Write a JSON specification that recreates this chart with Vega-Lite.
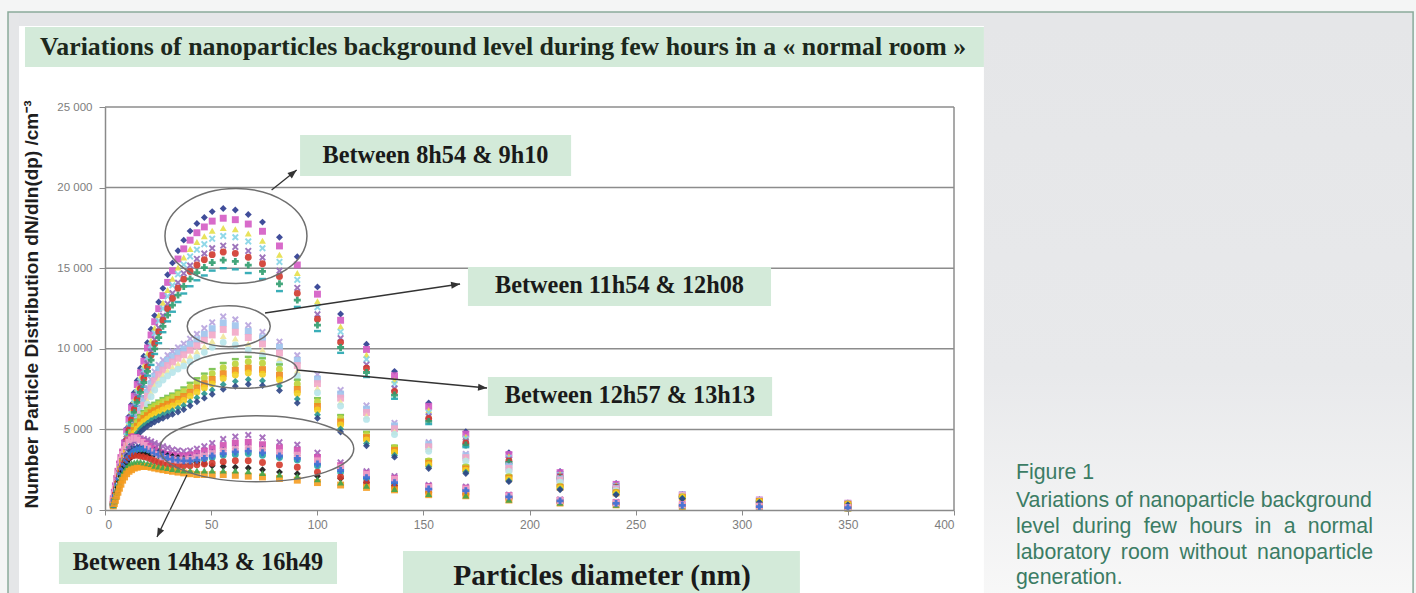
{
"$schema": "https://vega.github.io/schema/vega-lite/v6.json",
"width": 849, "height": 403,
"autosize": {"type": "none"},
"padding": {"left": 105, "top": 107, "right": 462, "bottom": 83},
"background": "#ffffff",
"config": {"view": {"stroke": null}, "axis": {"zindex": 1, "grid": false, "domainColor": "#8a8a8a", "domainWidth": 1.5, "tickColor": "#8a8a8a", "labelColor": "#7d7d7d", "labelFont": "Liberation Sans"}},
"resolve": {"scale": {"shape": "independent", "color": "independent"}},
"layer": [
{"data": {"values": [{"x0": -49.5, "x1": 617.6, "y0": 31700, "y1": 30893}, {"x0": -49.5, "x1": -45.7, "y0": 31700, "y1": -5800}, {"x0": 616.3, "x1": 617.6, "y0": 31700, "y1": -5800}]},
 "mark": {"type": "rect", "fill": "#f4f5f5"},
 "encoding": {"x": {"field": "x0", "type": "quantitative", "scale": {"domain": [0, 400], "nice": false}}, "x2": {"field": "x1"},
  "y": {"field": "y0", "type": "quantitative", "scale": {"domain": [0, 25000], "nice": false}}, "y2": {"field": "y1"}}},
{"data": {"values": [{"x0": -45.7, "x1": 616.3, "y0": 30893, "y1": 30024}, {"x0": -45.7, "x1": -40.5, "y0": 30893, "y1": -5800}]},
 "mark": {"type": "rect", "fill": "#e5e6e8"},
 "encoding": {"x": {"field": "x0", "type": "quantitative"}, "x2": {"field": "x1"}, "y": {"field": "y0", "type": "quantitative"}, "y2": {"field": "y1"}}},
{"data": {"values": [{}]},
 "mark": {"type": "rect",
  "fill": {"gradient": "linear", "x1": 0, "y1": 0, "x2": 0, "y2": 1, "stops": [{"offset": 0, "color": "#e5e6e8"}, {"offset": 0.6, "color": "#e8e9eb"}, {"offset": 1, "color": "#f8f8f8"}]}},
 "encoding": {"x": {"datum": 414.1}, "x2": {"datum": 616.3}, "y": {"datum": 30024}, "y2": {"datum": -5800}}},
{"data": {"values": [{}]},
 "mark": {"type": "rect", "fill": "transparent", "stroke": "#8aab9b", "strokeWidth": 1.5},
 "encoding": {"x": {"datum": -45.7}, "x2": {"datum": 616.3}, "y": {"datum": 30893}, "y2": {"datum": -5800}}},
{"data": {"values": [{}]},
 "mark": {"type": "rect", "fill": "#d3ead9"},
 "encoding": {"x": {"datum": -37.7}, "x2": {"datum": 414.1}, "y": {"datum": 29962}, "y2": {"datum": 27481}}},
{"data": {"values": [{}]},
 "mark": {"type": "text", "text": "Variations of nanoparticles background level during few hours in a « normal room »", "font": "Liberation Serif", "fontWeight": "bold", "fontSize": 25.8, "fill": "#1c281c", "align": "left", "baseline": "middle"},
 "encoding": {"x": {"datum": -30.6}, "y": {"datum": 28722}}},
{"data": {"values": [{"g": 5000}, {"g": 10000}, {"g": 15000}, {"g": 20000}, {"g": 25000}]},
 "mark": {"type": "rule", "color": "#8c8c8c", "strokeWidth": 1.5},
 "encoding": {"x": {"datum": 0}, "x2": {"datum": 400}, "y": {"field": "g", "type": "quantitative"}}},
{"data": {"values": [{}]},
 "mark": {"type": "rule", "color": "#8c8c8c", "strokeWidth": 1.5},
 "encoding": {"x": {"datum": 400}, "y": {"datum": 0}, "y2": {"datum": 25000}}},
{"data": {"values": [
{"dp":3.9,"a1":370,"a2":360,"a3":350,"a4":340,"a5":330,"a6":320,"a7":310,"a8":300,"b1":360,"b2":350,"b3":340,"b4":320,"b5":310,"c1":380,"c2":370,"c3":350,"c4":340,"c5":320,"c6":310,"d1":500,"d2":700,"d3":400,"d4":350,"d5":300,"d6":450,"d7":250,"d8":300,"d9":600,"d10":350},
{"dp":4.4,"a1":660,"a2":630,"a3":610,"a4":600,"a5":570,"a6":560,"a7":540,"a8":530,"b1":600,"b2":580,"b3":560,"b4":540,"b5":520,"c1":670,"c2":640,"c3":620,"c4":600,"c5":570,"c6":550,"d1":800,"d2":1100,"d3":650,"d4":600,"d5":500,"d6":700,"d7":400,"d8":550,"d9":950,"d10":600},
{"dp":4.9,"a1":940,"a2":910,"a3":880,"a4":850,"a5":820,"a6":800,"a7":780,"a8":750,"b1":900,"b2":870,"b3":840,"b4":810,"b5":780,"c1":950,"c2":920,"c3":880,"c4":850,"c5":810,"c6":780,"d1":1100,"d2":1500,"d3":950,"d4":850,"d5":750,"d6":1000,"d7":600,"d8":800,"d9":1350,"d10":900},
{"dp":5.5,"a1":1400,"a2":1360,"a3":1310,"a4":1280,"a5":1230,"a6":1200,"a7":1160,"a8":1130,"b1":1200,"b2":1160,"b3":1120,"b4":1080,"b5":1040,"c1":1330,"c2":1290,"c3":1230,"c4":1190,"c5":1130,"c6":1090,"d1":1500,"d2":1950,"d3":1300,"d4":1150,"d5":1050,"d6":1350,"d7":850,"d8":1100,"d9":1800,"d10":1250},
{"dp":6.1,"a1":1870,"a2":1810,"a3":1750,"a4":1700,"a5":1640,"a6":1600,"a7":1550,"a8":1500,"b1":1560,"b2":1510,"b3":1460,"b4":1400,"b5":1350,"c1":1710,"c2":1660,"c3":1580,"c4":1530,"c5":1460,"c6":1400,"d1":1900,"d2":2400,"d3":1650,"d4":1500,"d5":1400,"d6":1700,"d7":1100,"d8":1400,"d9":2250,"d10":1600},
{"dp":6.8,"a1":2430,"a2":2350,"a3":2280,"a4":2210,"a5":2130,"a6":2080,"a7":2020,"a8":1950,"b1":1980,"b2":1910,"b3":1850,"b4":1780,"b5":1720,"c1":2190,"c2":2120,"c3":2020,"c4":1960,"c5":1860,"c6":1790,"d1":2300,"d2":2850,"d3":2000,"d4":1850,"d5":1750,"d6":2050,"d7":1350,"d8":1700,"d9":2700,"d10":1950},
{"dp":7.5,"a1":2990,"a2":2900,"a3":2800,"a4":2720,"a5":2620,"a6":2560,"a7":2480,"a8":2400,"b1":2400,"b2":2320,"b3":2240,"b4":2160,"b5":2080,"c1":2660,"c2":2580,"c3":2460,"c4":2380,"c5":2270,"c6":2180,"d1":2700,"d2":3250,"d3":2350,"d4":2150,"d5":2100,"d6":2350,"d7":1600,"d8":2000,"d9":3100,"d10":2250},
{"dp":8.3,"a1":3650,"a2":3530,"a3":3410,"a4":3320,"a5":3200,"a6":3120,"a7":3020,"a8":2930,"b1":2880,"b2":2780,"b3":2690,"b4":2590,"b5":2500,"c1":3140,"c2":3040,"c3":2900,"c4":2810,"c5":2670,"c6":2570,"d1":3050,"d2":3600,"d3":2650,"d4":2450,"d5":2400,"d6":2650,"d7":1850,"d8":2250,"d9":3450,"d10":2550},
{"dp":9.2,"a1":4300,"a2":4160,"a3":4030,"a4":3910,"a5":3770,"a6":3680,"a7":3570,"a8":3450,"b1":3360,"b2":3250,"b3":3140,"b4":3020,"b5":2910,"c1":3610,"c2":3500,"c3":3340,"c4":3230,"c5":3080,"c6":2960,"d1":3350,"d2":3900,"d3":2950,"d4":2750,"d5":2700,"d6":2900,"d7":2050,"d8":2450,"d9":3750,"d10":2850},
{"dp":10.2,"a1":5050,"a2":4890,"a3":4730,"a4":4590,"a5":4430,"a6":4320,"a7":4190,"a8":4050,"b1":3840,"b2":3710,"b3":3580,"b4":3460,"b5":3330,"c1":4090,"c2":3960,"c3":3780,"c4":3660,"c5":3480,"c6":3350,"d1":3650,"d2":4150,"d3":3200,"d4":3000,"d5":2950,"d6":3100,"d7":2250,"d8":2650,"d9":4000,"d10":3100},
{"dp":11.3,"a1":5800,"a2":5610,"a3":5430,"a4":5270,"a5":5080,"a6":4960,"a7":4810,"a8":4650,"b1":4320,"b2":4180,"b3":4030,"b4":3890,"b5":3740,"c1":4560,"c2":4420,"c3":4220,"c4":4080,"c5":3890,"c6":3740,"d1":3900,"d2":4350,"d3":3450,"d4":3250,"d5":3150,"d6":3250,"d7":2400,"d8":2800,"d9":4200,"d10":3300},
{"dp":12.5,"a1":6550,"a2":6340,"a3":6130,"a4":5950,"a5":5740,"a6":5600,"a7":5430,"a8":5250,"b1":4800,"b2":4640,"b3":4480,"b4":4320,"b5":4160,"c1":4940,"c2":4780,"c3":4580,"c4":4420,"c5":4210,"c6":4060,"d1":4100,"d2":4500,"d3":3650,"d4":3450,"d5":3300,"d6":3350,"d7":2500,"d8":2900,"d9":4350,"d10":3500},
{"dp":13.8,"a1":7290,"a2":7060,"a3":6830,"a4":6630,"a5":6400,"a6":6240,"a7":6050,"a8":5850,"b1":5280,"b2":5100,"b3":4930,"b4":4750,"b5":4580,"c1":5320,"c2":5150,"c3":4930,"c4":4760,"c5":4540,"c6":4370,"d1":4250,"d2":4550,"d3":3800,"d4":3600,"d5":3400,"d6":3400,"d7":2600,"d8":2950,"d9":4450,"d10":3650},
{"dp":15.2,"a1":8040,"a2":7780,"a3":7530,"a4":7310,"a5":7050,"a6":6880,"a7":6670,"a8":6450,"b1":5760,"b2":5570,"b3":5380,"b4":5180,"b5":4990,"c1":5610,"c2":5430,"c3":5190,"c4":5020,"c5":4780,"c6":4600,"d1":4350,"d2":4500,"d3":3900,"d4":3700,"d5":3450,"d6":3400,"d7":2650,"d8":3000,"d9":4450,"d10":3750},
{"dp":16.7,"a1":8790,"a2":8510,"a3":8230,"a4":7990,"a5":7710,"a6":7520,"a7":7290,"a8":7050,"b1":6360,"b2":6150,"b3":5940,"b4":5720,"b5":5510,"c1":5890,"c2":5700,"c3":5460,"c4":5270,"c5":5020,"c6":4840,"d1":4400,"d2":4400,"d3":3950,"d4":3750,"d5":3500,"d6":3350,"d7":2700,"d8":3000,"d9":4350,"d10":3800},
{"dp":18.3,"a1":9540,"a2":9230,"a3":8930,"a4":8670,"a5":8360,"a6":8160,"a7":7910,"a8":7650,"b1":6960,"b2":6730,"b3":6500,"b4":6260,"b5":6030,"c1":6130,"c2":5930,"c3":5680,"c4":5480,"c5":5230,"c6":5030,"d1":4400,"d2":4250,"d3":3950,"d4":3750,"d5":3500,"d6":3300,"d7":2700,"d8":2950,"d9":4200,"d10":3800},
{"dp":20.0,"a1":10380,"a2":10050,"a3":9710,"a4":9440,"a5":9100,"a6":8880,"a7":8600,"a8":8330,"b1":7560,"b2":7310,"b3":7060,"b4":6800,"b5":6550,"c1":6320,"c2":6120,"c3":5850,"c4":5650,"c5":5390,"c6":5190,"d1":4350,"d2":4100,"d3":3900,"d4":3700,"d5":3500,"d6":3250,"d7":2700,"d8":2900,"d9":4000,"d10":3750},
{"dp":21.7,"a1":11220,"a2":10860,"a3":10500,"a4":10200,"a5":9840,"a6":9600,"a7":9300,"a8":9000,"b1":8100,"b2":7830,"b3":7560,"b4":7290,"b5":7020,"c1":6510,"c2":6300,"c3":6030,"c4":5820,"c5":5550,"c6":5340,"d1":4250,"d2":3950,"d3":3800,"d4":3600,"d5":3450,"d6":3150,"d7":2650,"d8":2850,"d9":3800,"d10":3650},
{"dp":23.4,"a1":12060,"a2":11680,"a3":11290,"a4":10970,"a5":10580,"a6":10320,"a7":10000,"a8":9680,"b1":8580,"b2":8290,"b3":8010,"b4":7720,"b5":7440,"c1":6650,"c2":6440,"c3":6160,"c4":5950,"c5":5670,"c6":5460,"d1":4150,"d2":3800,"d3":3700,"d4":3500,"d5":3450,"d6":3050,"d7":2600,"d8":2750,"d9":3600,"d10":3550},
{"dp":25.3,"a1":12900,"a2":12490,"a3":12080,"a4":11730,"a5":11320,"a6":11040,"a7":10700,"a8":10350,"b1":9000,"b2":8700,"b3":8400,"b4":8100,"b5":7800,"c1":6790,"c2":6580,"c3":6290,"c4":6080,"c5":5790,"c6":5580,"d1":4050,"d2":3650,"d3":3600,"d4":3400,"d5":3400,"d6":2950,"d7":2550,"d8":2700,"d9":3450,"d10":3450},
{"dp":27.3,"a1":13750,"a2":13300,"a3":12860,"a4":12500,"a5":12050,"a6":11760,"a7":11390,"a8":11030,"b1":9300,"b2":8990,"b3":8680,"b4":8370,"b5":8060,"c1":6940,"c2":6720,"c3":6420,"c4":6210,"c5":5910,"c6":5690,"d1":3950,"d2":3550,"d3":3500,"d4":3300,"d5":3400,"d6":2900,"d7":2500,"d8":2650,"d9":3300,"d10":3350},
{"dp":29.5,"a1":14590,"a2":14120,"a3":13650,"a4":13260,"a5":12790,"a6":12480,"a7":12090,"a8":11700,"b1":9600,"b2":9280,"b3":8960,"b4":8640,"b5":8320,"c1":7080,"c2":6850,"c3":6560,"c4":6330,"c5":6040,"c6":5810,"d1":3850,"d2":3450,"d3":3400,"d4":3200,"d5":3350,"d6":2850,"d7":2450,"d8":2600,"d9":3200,"d10":3250},
{"dp":31.8,"a1":15330,"a2":14840,"a3":14350,"a4":13940,"a5":13450,"a6":13120,"a7":12710,"a8":12300,"b1":9840,"b2":9510,"b3":9180,"b4":8860,"b5":8530,"c1":7220,"c2":6990,"c3":6690,"c4":6460,"c5":6160,"c6":5930,"d1":3750,"d2":3400,"d3":3300,"d4":3100,"d5":3300,"d6":2800,"d7":2400,"d8":2550,"d9":3150,"d10":3150},
{"dp":34.4,"a1":16080,"a2":15570,"a3":15050,"a4":14620,"a5":14100,"a6":13760,"a7":13330,"a8":12900,"b1":10080,"b2":9740,"b3":9410,"b4":9070,"b5":8740,"c1":7410,"c2":7180,"c3":6860,"c4":6630,"c5":6320,"c6":6080,"d1":3700,"d2":3350,"d3":3250,"d4":3050,"d5":3250,"d6":2750,"d7":2350,"d8":2500,"d9":3100,"d10":3100},
{"dp":37.1,"a1":16740,"a2":16200,"a3":15660,"a4":15220,"a5":14680,"a6":14320,"a7":13870,"a8":13430,"b1":10320,"b2":9980,"b3":9630,"b4":9290,"b5":8940,"c1":7600,"c2":7360,"c3":7040,"c4":6800,"c5":6480,"c6":6240,"d1":3650,"d2":3350,"d3":3200,"d4":3000,"d5":3150,"d6":2750,"d7":2300,"d8":2450,"d9":3100,"d10":3050},
{"dp":40.1,"a1":17300,"a2":16740,"a3":16190,"a4":15730,"a5":15170,"a6":14800,"a7":14340,"a8":13880,"b1":10620,"b2":10270,"b3":9910,"b4":9560,"b5":9200,"c1":7890,"c2":7640,"c3":7300,"c4":7060,"c5":6720,"c6":6470,"d1":3700,"d2":3400,"d3":3250,"d4":3000,"d5":3050,"d6":2750,"d7":2250,"d8":2450,"d9":3150,"d10":3050},
{"dp":43.3,"a1":17770,"a2":17200,"a3":16630,"a4":16150,"a5":15580,"a6":15200,"a7":14730,"a8":14250,"b1":10920,"b2":10560,"b3":10190,"b4":9830,"b5":9460,"c1":8170,"c2":7910,"c3":7570,"c4":7310,"c5":6970,"c6":6710,"d1":3800,"d2":3500,"d3":3300,"d4":3050,"d5":2950,"d6":2800,"d7":2200,"d8":2450,"d9":3250,"d10":3100},
{"dp":46.8,"a1":18140,"a2":17560,"a3":16980,"a4":16490,"a5":15910,"a6":15520,"a7":15040,"a8":14550,"b1":11280,"b2":10900,"b3":10530,"b4":10150,"b5":9780,"c1":8460,"c2":8190,"c3":7830,"c4":7570,"c5":7210,"c6":6940,"d1":3950,"d2":3650,"d3":3400,"d4":3150,"d5":2850,"d6":2850,"d7":2200,"d8":2450,"d9":3350,"d10":3200},
{"dp":50.5,"a1":18510,"a2":17920,"a3":17330,"a4":16830,"a5":16240,"a6":15840,"a7":15350,"a8":14850,"b1":11640,"b2":11250,"b3":10860,"b4":10480,"b5":10090,"c1":8740,"c2":8460,"c3":8100,"c4":7820,"c5":7450,"c6":7180,"d1":4150,"d2":3800,"d3":3550,"d4":3250,"d5":2750,"d6":2900,"d7":2200,"d8":2450,"d9":3500,"d10":3350},
{"dp":55.7,"a1":18700,"a2":18100,"a3":17500,"a4":17000,"a5":16400,"a6":16000,"a7":15500,"a8":15000,"b1":12000,"b2":11600,"b3":11200,"b4":10800,"b5":10400,"c1":9120,"c2":8830,"c3":8450,"c4":8160,"c5":7780,"c6":7490,"d1":4400,"d2":4000,"d3":3700,"d4":3400,"d5":2700,"d6":3000,"d7":2200,"d8":2450,"d9":3650,"d10":3500},
{"dp":61.4,"a1":18610,"a2":18010,"a3":17410,"a4":16920,"a5":16320,"a6":15920,"a7":15420,"a8":14930,"b1":11820,"b2":11430,"b3":11030,"b4":10640,"b5":10240,"c1":9360,"c2":9060,"c3":8670,"c4":8370,"c5":7980,"c6":7680,"d1":4550,"d2":4150,"d3":3800,"d4":3450,"d5":2650,"d6":3050,"d7":2150,"d8":2450,"d9":3750,"d10":3600},
{"dp":67.5,"a1":18330,"a2":17740,"a3":17150,"a4":16660,"a5":16070,"a6":15680,"a7":15190,"a8":14700,"b1":11460,"b2":11080,"b3":10700,"b4":10310,"b5":9930,"c1":9500,"c2":9200,"c3":8800,"c4":8500,"c5":8100,"c6":7800,"d1":4650,"d2":4200,"d3":3850,"d4":3500,"d5":2600,"d6":3050,"d7":2100,"d8":2400,"d9":3800,"d10":3650},
{"dp":74.2,"a1":17860,"a2":17290,"a3":16710,"a4":16240,"a5":15660,"a6":15280,"a7":14800,"a8":14330,"b1":11040,"b2":10670,"b3":10300,"b4":9940,"b5":9570,"c1":9410,"c2":9110,"c3":8710,"c4":8420,"c5":8020,"c6":7720,"d1":4500,"d2":4050,"d3":3750,"d4":3400,"d5":2500,"d6":2950,"d7":2050,"d8":2300,"d9":3700,"d10":3550},
{"dp":82.2,"a1":16920,"a2":16380,"a3":15840,"a4":15390,"a5":14840,"a6":14480,"a7":14030,"a8":13580,"b1":10440,"b2":10090,"b3":9740,"b4":9400,"b5":9050,"c1":9030,"c2":8740,"c3":8360,"c4":8080,"c5":7700,"c6":7410,"d1":4200,"d2":3850,"d3":3550,"d4":3250,"d5":2350,"d6":2800,"d7":1950,"d8":2200,"d9":3550,"d10":3350},
{"dp":90.6,"a1":15710,"a2":15200,"a3":14700,"a4":14280,"a5":13780,"a6":13440,"a7":13020,"a8":12600,"b1":9600,"b2":9280,"b3":8960,"b4":8640,"b5":8320,"c1":8080,"c2":7820,"c3":7480,"c4":7230,"c5":6890,"c6":6630,"d1":4050,"d2":3700,"d3":3400,"d4":3100,"d5":2250,"d6":2650,"d7":1850,"d8":2100,"d9":3400,"d10":3200},
{"dp":100.1,"a1":13840,"a2":13390,"a3":12950,"a4":12580,"a5":12140,"a6":11840,"a7":11470,"a8":11100,"b1":8400,"b2":8120,"b3":7840,"b4":7560,"b5":7280,"c1":6940,"c2":6720,"c3":6420,"c4":6210,"c5":5910,"c6":5690,"d1":3550,"d2":3250,"d3":3000,"d4":2750,"d5":2100,"d6":2350,"d7":1700,"d8":1900,"d9":3050,"d10":2850},
{"dp":111,"a1":12160,"a2":11770,"a3":11380,"a4":11050,"a5":10660,"a6":10400,"a7":10080,"a8":9750,"b1":7440,"b2":7190,"b3":6940,"b4":6700,"b5":6450,"c1":5890,"c2":5700,"c3":5460,"c4":5270,"c5":5020,"c6":4840,"d1":2950,"d2":2750,"d3":2550,"d4":2350,"d5":1950,"d6":2050,"d7":1550,"d8":1700,"d9":2650,"d10":2450},
{"dp":123.2,"a1":10290,"a2":9960,"a3":9630,"a4":9350,"a5":9020,"a6":8800,"a7":8530,"a8":8250,"b1":6480,"b2":6260,"b3":6050,"b4":5830,"b5":5620,"c1":4850,"c2":4690,"c3":4490,"c4":4340,"c5":4130,"c6":3980,"d1":2400,"d2":2250,"d3":2100,"d4":1950,"d5":1700,"d6":1700,"d7":1400,"d8":1500,"d9":2200,"d10":2000},
{"dp":136.4,"a1":8600,"a2":8330,"a3":8050,"a4":7820,"a5":7540,"a6":7360,"a7":7130,"a8":6900,"b1":5400,"b2":5220,"b3":5040,"b4":4860,"b5":4680,"c1":3990,"c2":3860,"c3":3700,"c4":3570,"c5":3400,"c6":3280,"d1":2100,"d2":1950,"d3":1800,"d4":1650,"d5":1500,"d6":1450,"d7":1250,"d8":1300,"d9":1900,"d10":1700},
{"dp":152.5,"a1":6640,"a2":6430,"a3":6210,"a4":6040,"a5":5820,"a6":5680,"a7":5500,"a8":5330,"b1":4200,"b2":4060,"b3":3920,"b4":3780,"b5":3640,"c1":3140,"c2":3040,"c3":2900,"c4":2810,"c5":2670,"c6":2570,"d1":1550,"d2":1450,"d3":1350,"d4":1250,"d5":1100,"d6":1100,"d7":950,"d8":1000,"d9":1400,"d10":1300},
{"dp":170,"a1":4860,"a2":4710,"a3":4550,"a4":4420,"a5":4260,"a6":4160,"a7":4030,"a8":3900,"b1":3480,"b2":3360,"b3":3250,"b4":3130,"b5":3020,"c1":2760,"c2":2670,"c3":2550,"c4":2470,"c5":2350,"c6":2260,"d1":1450,"d2":1350,"d3":1250,"d4":1150,"d5":1000,"d6":1000,"d7":880,"d8":900,"d9":1300,"d10":1200},
{"dp":190.3,"a1":3550,"a2":3440,"a3":3330,"a4":3230,"a5":3120,"a6":3040,"a7":2950,"a8":2850,"b1":2760,"b2":2670,"b3":2580,"b4":2480,"b5":2390,"c1":2140,"c2":2070,"c3":1980,"c4":1910,"c5":1820,"c6":1760,"d1":950,"d2":900,"d3":850,"d4":800,"d5":700,"d6":700,"d7":620,"d8":640,"d9":870,"d10":820},
{"dp":214.4,"a1":2390,"a2":2320,"a3":2240,"a4":2180,"a5":2100,"a6":2050,"a7":1980,"a8":1920,"b1":1980,"b2":1910,"b3":1850,"b4":1780,"b5":1720,"c1":1520,"c2":1470,"c3":1410,"c4":1360,"c5":1300,"c6":1250,"d1":650,"d2":600,"d3":580,"d4":540,"d5":480,"d6":480,"d7":430,"d8":450,"d9":590,"d10":560},
{"dp":240.8,"a1":1650,"a2":1590,"a3":1540,"a4":1500,"a5":1440,"a6":1410,"a7":1360,"a8":1320,"b1":1380,"b2":1330,"b3":1290,"b4":1240,"b5":1200,"c1":1140,"c2":1100,"c3":1060,"c4":1020,"c5":970,"c6":940,"d1":500,"d2":450,"d3":420,"d4":400,"d5":380,"d6":350,"d7":320,"d8":330,"d9":440,"d10":410},
{"dp":272,"a1":970,"a2":940,"a3":910,"a4":880,"a5":850,"a6":830,"a7":810,"a8":780,"b1":960,"b2":930,"b3":900,"b4":860,"b5":830,"c1":860,"c2":830,"c3":790,"c4":770,"c5":730,"c6":700,"d1":350,"d2":320,"d3":300,"d4":280,"d5":250,"d6":250,"d7":220,"d8":230,"d9":310,"d10":290},
{"dp":308.3,"a1":640,"a2":620,"a3":600,"a4":580,"a5":560,"a6":540,"a7":530,"a8":510,"b1":600,"b2":580,"b3":560,"b4":540,"b5":520,"c1":570,"c2":550,"c3":530,"c4":510,"c5":490,"c6":470,"d1":250,"d2":230,"d3":220,"d4":200,"d5":190,"d6":180,"d7":160,"d8":170,"d9":230,"d10":210},
{"dp":350,"a1":430,"a2":420,"a3":400,"a4":390,"a5":380,"a6":370,"a7":360,"a8":350,"b1":400,"b2":380,"b3":370,"b4":360,"b5":340,"c1":380,"c2":370,"c3":350,"c4":340,"c5":320,"c6":310,"d1":180,"d2":160,"d3":150,"d4":140,"d5":130,"d6":120,"d7":110,"d8":110,"d9":160,"d10":145}
]},
 "transform": [{"fold": ["a1","a2","a3","a4","a5","a6","a7","a8","b1","b2","b3","b4","b5","c1","c2","c3","c4","c5","c6","d1","d2","d3","d4","d5","d6","d7","d8","d9","d10"], "as": ["s", "n"]}],
 "mark": {"type": "point", "filled": true, "size": 48, "opacity": 0.9},
 "encoding": {
  "x": {"field": "dp", "type": "quantitative", "scale": {"domain": [0, 400], "nice": false},
   "axis": {"values": [0,50,100,150,200,250,300,350,400], "title": null, "tickSize": 5, "labelFontSize": 12, "labelPadding": 4, "zindex": 1}},
  "y": {"field": "n", "type": "quantitative", "scale": {"domain": [0, 25000], "nice": false},
   "axis": {"values": [0,5000,10000,15000,20000,25000], "labelExpr": "replace(format(datum.value, ','), ',', ' ')", "tickSize": 6, "labelFontSize": 11.5, "labelPadding": 7, "zindex": 1,
    "title": "Number Particle Distribution dN/dln(dp) /cm⁻³", "titleFont": "Liberation Sans", "titleFontSize": 19, "titleFontWeight": "bold", "titleColor": "#1e1e1e", "titleX": -74, "titleY": 197, "titleAngle": -90, "titleAlign": "center", "titleBaseline": "middle"}},
  "color": {"field": "s", "type": "nominal", "legend": null,
   "scale": {"domain": ["a1","a2","a3","a4","a5","a6","a7","a8","b1","b2","b3","b4","b5","c1","c2","c3","c4","c5","c6","d1","d2","d3","d4","d5","d6","d7","d8","d9","d10"],
    "range": ["#2b3a8f","#d45bc4","#e6df4a","#84d4e6","#9467b5","#d0382e","#2f9c6e","#25a5b0","#b7a3dd","#9fc3ec","#f2a7c6","#efe79a","#b7e4ea","#74c04a","#bcd438","#f08a1c","#f3cf22","#27958f","#2d4585","#a063b8","#cf4fb0","#2c3f91","#2aa6a4","#141414","#d33a2c","#f59c20","#3fa64c","#f3a3c6","#3a6fd6"]}},
  "shape": {"field": "s", "type": "nominal", "legend": null,
   "scale": {"domain": ["a1","a2","a3","a4","a5","a6","a7","a8","b1","b2","b3","b4","b5","c1","c2","c3","c4","c5","c6","d1","d2","d3","d4","d5","d6","d7","d8","d9","d10"],
    "range": ["diamond","square","triangle-up","M-1,-0.6L-0.6,-1L0,-0.4L0.6,-1L1,-0.6L0.4,0L1,0.6L0.6,1L0,0.4L-0.6,1L-1,0.6L-0.4,0Z","M-1,-0.6L-0.6,-1L0,-0.4L0.6,-1L1,-0.6L0.4,0L1,0.6L0.6,1L0,0.4L-0.6,1L-1,0.6L-0.4,0Z","circle","cross","M-1,-0.35L1,-0.35L1,0.35L-1,0.35Z",
     "M-1,-0.6L-0.6,-1L0,-0.4L0.6,-1L1,-0.6L0.4,0L1,0.6L0.6,1L0,0.4L-0.6,1L-1,0.6L-0.4,0Z","square","square","triangle-up","circle",
     "M-1,-0.35L1,-0.35L1,0.35L-1,0.35Z","circle","square","circle","diamond","diamond",
     "M-1,-0.6L-0.6,-1L0,-0.4L0.6,-1L1,-0.6L0.4,0L1,0.6L0.6,1L0,0.4L-0.6,1L-1,0.6L-0.4,0Z","square","diamond","circle","diamond","circle","square","triangle-up","square","cross"]}}
 }},
{"data": {"values": [{"e": "E1", "x": 61.7, "y": 16997}, {"e": "E2", "x": 58.3, "y": 11402}, {"e": "E3", "x": 64.7, "y": 8666}, {"e": "E4", "x": 71.5, "y": 3796}]},
 "mark": {"type": "point", "filled": false, "color": "#6f6f6f", "strokeWidth": 1.5, "size": 4, "opacity": 1},
 "encoding": {"x": {"field": "x", "type": "quantitative"}, "y": {"field": "y", "type": "quantitative"},
  "shape": {"field": "e", "type": "nominal", "legend": null, "scale": {"domain": ["E1","E2","E3","E4"], "range": ["M-71,0A71,47.5 0 1,0 71,0A71,47.5 0 1,0 -71,0Z", "M-41.5,0A41.5,20.5 0 1,0 41.5,0A41.5,20.5 0 1,0 -41.5,0Z", "M-55,0A55,18 0 1,0 55,0A55,18 0 1,0 -55,0Z", "M-97,0A97,33 0 1,0 97,0A97,33 0 1,0 -97,0Z"]}}}},
{"data": {"values": [{"x0": 78.5, "y0": 19851, "x1": 90.3, "y1": 21092}, {"x0": 75.4, "y0": 12221, "x1": 167.3, "y1": 14020}, {"x0": 90.5, "y0": 8685, "x1": 180.0, "y1": 7568}, {"x0": 38.6, "y0": 2171, "x1": 24.5, "y1": -1675}]},
 "mark": {"type": "rule", "color": "#333333", "strokeWidth": 1.3},
 "encoding": {"x": {"field": "x0", "type": "quantitative"}, "y": {"field": "y0", "type": "quantitative"}, "x2": {"field": "x1"}, "y2": {"field": "y1"}}},
{"data": {"values": [{}]}, "mark": {"type": "point", "shape": "M0,0L-3.5,9L3.5,9Z", "filled": true, "color": "#333333", "size": 4, "opacity": 1, "angle": 51}, "encoding": {"x": {"datum": 90.3}, "y": {"datum": 21092}}},
{"data": {"values": [{}]}, "mark": {"type": "point", "shape": "M0,0L-3.5,9L3.5,9Z", "filled": true, "color": "#333333", "size": 4, "opacity": 1, "angle": 81.5}, "encoding": {"x": {"datum": 167.3}, "y": {"datum": 14020}}},
{"data": {"values": [{}]}, "mark": {"type": "point", "shape": "M0,0L-3.5,9L3.5,9Z", "filled": true, "color": "#333333", "size": 4, "opacity": 1, "angle": 95.4}, "encoding": {"x": {"datum": 180.0}, "y": {"datum": 7568}}},
{"data": {"values": [{}]}, "mark": {"type": "point", "shape": "M0,0L-3.5,9L3.5,9Z", "filled": true, "color": "#333333", "size": 4, "opacity": 1, "angle": 206}, "encoding": {"x": {"datum": 24.5}, "y": {"datum": -1675}}},
{"data": {"values": [{"x0": 91.9, "x1": 219.6, "y0": 23263, "y1": 20719}, {"x0": 171.0, "x1": 313.8, "y0": 15074, "y1": 12655}, {"x0": 180.4, "x1": 314.3, "y0": 8251, "y1": 5831}, {"x0": -21.7, "x1": 109.3, "y0": -1985, "y1": -4591}, {"x0": 140.4, "x1": 327.4, "y0": -2543, "y1": -5800}]},
 "mark": {"type": "rect", "fill": "#d3ead9"},
 "encoding": {"x": {"field": "x0", "type": "quantitative"}, "x2": {"field": "x1"}, "y": {"field": "y0", "type": "quantitative"}, "y2": {"field": "y1"}}},
{"data": {"values": [{"t": "Between 8h54 & 9h10", "x": 155.7, "y": 21960}, {"t": "Between 11h54 & 12h08", "x": 242.4, "y": 13865}, {"t": "Between 12h57 & 13h13", "x": 247.3, "y": 7041}, {"t": "Between 14h43 & 16h49", "x": 43.8, "y": -3288}]},
 "mark": {"type": "text", "font": "Liberation Serif", "fontWeight": "bold", "fontSize": 24.3, "fill": "#1a1a1a", "align": "center", "baseline": "middle"},
 "encoding": {"x": {"field": "x", "type": "quantitative"}, "y": {"field": "y", "type": "quantitative"}, "text": {"field": "t"}}},
{"data": {"values": [{}]},
 "mark": {"type": "text", "text": "Particles diameter (nm)", "font": "Liberation Serif", "fontWeight": "bold", "fontSize": 29.5, "fill": "#1a1a1a", "align": "center", "baseline": "middle"},
 "encoding": {"x": {"datum": 234.2}, "y": {"datum": -4094}}},
{"data": {"values": [{"t": "Figure 1", "x": 429.2, "y": 2295}, {"t": "Variations of nanoparticle background", "x": 429.2, "y": 558},
  {"t": "level", "x": 429.2, "y": -1055}, {"t": "during", "x": 455.7, "y": -1055}, {"t": "few", "x": 489.4, "y": -1055}, {"t": "hours", "x": 510.8, "y": -1055}, {"t": "in", "x": 541.7, "y": -1055}, {"t": "a", "x": 555.4, "y": -1055}, {"t": "normal", "x": 566.7, "y": -1055},
  {"t": "laboratory", "x": 429.2, "y": -2667}, {"t": "room", "x": 478.6, "y": -2667}, {"t": "without", "x": 506.2, "y": -2667}, {"t": "nanoparticle", "x": 542.8, "y": -2667},
  {"t": "generation.", "x": 429.2, "y": -4218}]},
 "mark": {"type": "text", "font": "Liberation Sans", "fontSize": 21.3, "fill": "#3b7c64", "align": "left", "baseline": "middle"},
 "encoding": {"x": {"field": "x", "type": "quantitative"}, "y": {"field": "y", "type": "quantitative"}, "text": {"field": "t"}}}
]
}
